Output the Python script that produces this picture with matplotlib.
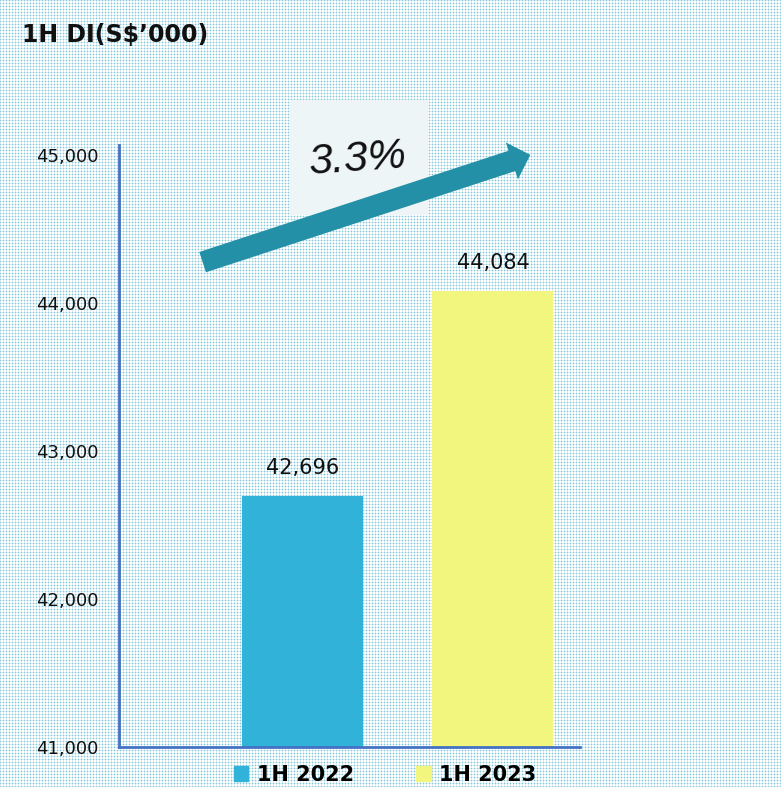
import matplotlib
matplotlib.use("Agg")
import matplotlib.pyplot as plt
import numpy as np
from matplotlib.patches import Rectangle

categories = ["1H 2022", "1H 2023"]
values = [42696, 44084]
colors = ["#31b2d8", "#f2f57e"]
yticks = [41000, 42000, 43000, 44000, 45000]
growth_label = "3.3%"
title = "1H DI(S$\u2019000)"

W, H = 781, 787
fig = plt.figure(figsize=(W/100, H/100), dpi=100)
fig.patch.set_facecolor("#ffffff")

# dotted background texture (raster)
bg = fig.add_axes([0, 0, 1, 1], zorder=0)
yy, xx = np.mgrid[0:H, 0:W]
img = np.ones((H, W, 3))
dark = (xx % 3 == 0) & (yy % 3 == 0)
light = ((xx % 3 == 0) ^ (yy % 3 == 0))
img[light] = np.array([0xd4, 0xec, 0xf2]) / 255
img[dark] = np.array([0x86, 0xc9, 0xdb]) / 255
bg.imshow(img, extent=(0, W, H, 0), interpolation="nearest", aspect="auto")
bg.set_xlim(0, W)
bg.set_ylim(H, 0)
bg.axis("off")

ax = fig.add_axes([119/W, 1-747/H, 461/W, 602/H], zorder=1)
ax.patch.set_alpha(0)
x = np.arange(len(categories))
ax.bar(x, values, width=0.635, color=colors, zorder=2)
ax.set_ylim(41000, 41000 + 602/148*1000)
ax.set_xlim(-0.963, 1.457)
ax.set_yticks(yticks)
ax.set_yticklabels([f"{v:,}" for v in yticks], fontsize=13, color="#111111")
ax.tick_params(axis="y", length=0, pad=15)
ax.set_xticks([])
for s in ["top", "right"]:
    ax.spines[s].set_visible(False)
for s in ["left", "bottom"]:
    ax.spines[s].set_color("#4472c4")
    ax.spines[s].set_linewidth(2)

for xi, v in zip(x, values):
    ax.text(xi, v + 120, f"{v:,}", ha="center", va="bottom", fontsize=15, color="#111111")

# title
fig.text(22/W, 1-35/H, title, fontsize=17, fontweight="bold", va="center", ha="left", color="#111111")

# annotation box and arrow in pixel coords on bg axes
bg.add_patch(Rectangle((290, 100), 138, 115, facecolor="#eef5f7", edgecolor="none", zorder=3))
bg.annotate("", xy=(533, 154), xytext=(200, 263),
            arrowprops=dict(arrowstyle="simple,head_length=1.0,head_width=2.0,tail_width=1.1",
                            color="#2390a8", lw=0, mutation_scale=14), zorder=4)
bg.text(358, 160, growth_label, fontsize=31, style="italic", ha="center", va="center",
        color="#111111", zorder=5, rotation=4, family=["Liberation Sans", "DejaVu Sans"])

# legend
handles = [Rectangle((0, 0), 1, 1, color=c) for c in colors]
fig.legend(handles, categories, loc="center", bbox_to_anchor=(385/W, 1-775/H),
           ncol=2, frameon=False, prop={"weight": "bold", "size": 15},
           handlelength=0.7, handleheight=0.7, columnspacing=3.0, handletextpad=0.4)

fig.savefig("out.png", dpi=100, facecolor=fig.get_facecolor())
